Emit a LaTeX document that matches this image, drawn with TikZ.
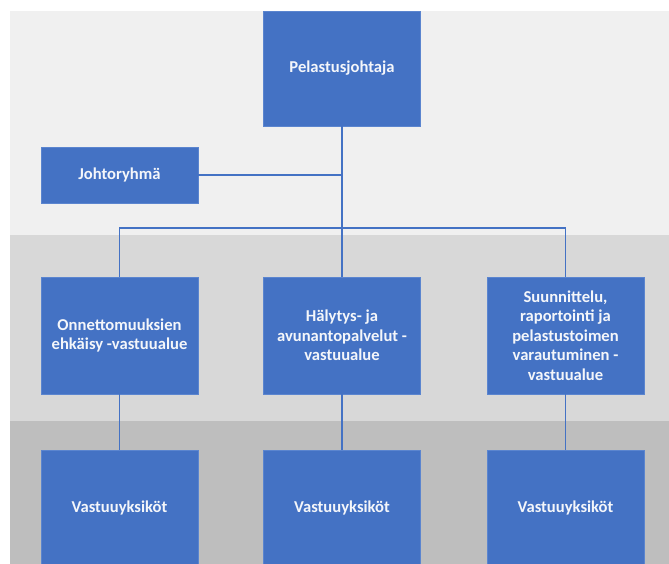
\documentclass[tikz,border=0pt]{standalone}
\usepackage{fontspec}
\setmainfont{Carlito}
\definecolor{boxblue}{HTML}{4472C4}
\definecolor{edgeblue}{HTML}{5B85CF}
\definecolor{bandA}{HTML}{F0F0F0}
\definecolor{bandB}{HTML}{D8D8D8}
\definecolor{bandC}{HTML}{BEBEBE}
\definecolor{txt}{HTML}{F4F6FA}
\begin{document}
\begin{tikzpicture}[x=1pt,y=-1pt,
  orgbox/.style={fill=boxblue,draw=edgeblue,line width=0.8pt,text=txt,
    font=\fontsize{16.6}{19.4}\selectfont\bfseries,align=center,inner sep=0pt,
    minimum width=157pt},
  conn/.style={draw=boxblue,line width=1.2pt}]
\useasboundingbox (0,0) rectangle (669,564);
\fill[white] (0,0) rectangle (669,564);
\fill[bandA] (10,11) rectangle (669,235);
\fill[bandB] (10,235) rectangle (669,421);
\fill[bandC] (10,421) rectangle (669,564);

\node[orgbox,minimum height=115pt] (P) at (342,68.5) {Pelastusjohtaja};
\node[orgbox,minimum height=56pt] (J) at (119.5,175) {Johtoryhmä};
\node[orgbox,minimum height=117pt] (M1) at (119.5,335.5) {Onnettomuuksien\\ehkäisy -vastuualue};
\node[orgbox,minimum height=117pt] (M2) at (342,335.5) {Hälytys- ja\\avunantopalvelut -\\vastuualue};
\node[orgbox,minimum height=117pt] (M3) at (565.5,335.5) {Suunnittelu,\\raportointi ja\\pelastustoimen\\varautuminen -\\vastuualue};
\node[orgbox,minimum height=116pt] (B1) at (119.5,508) {Vastuuyksiköt};
\node[orgbox,minimum height=116pt] (B2) at (342,508) {Vastuuyksiköt};
\node[orgbox,minimum height=116pt] (B3) at (565.5,508) {Vastuuyksiköt};

\coordinate (bus) at (342,228);
\draw[conn] (P.south) -- (M2.north);
\draw[conn] (J.east) -- (J.east -| P.south);
\draw[conn] (M1.north) |- (bus) -| (M3.north);
\draw[conn] (M1.south) -- (B1.north);
\draw[conn] (M2.south) -- (B2.north);
\draw[conn] (M3.south) -- (B3.north);
\end{tikzpicture}
\end{document}
